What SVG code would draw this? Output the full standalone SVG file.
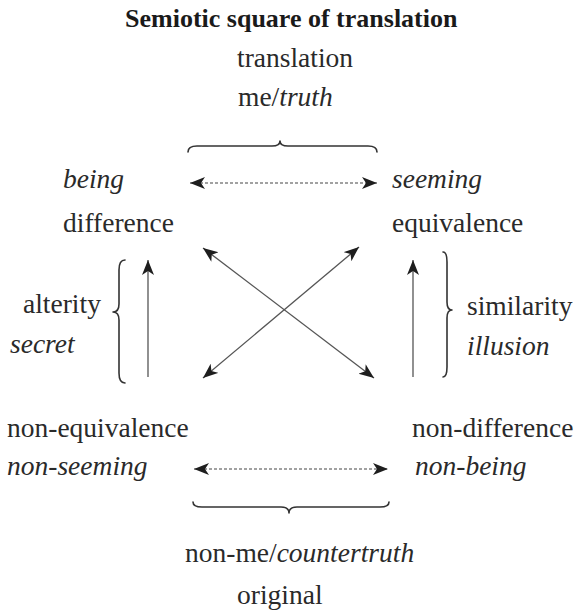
<svg xmlns="http://www.w3.org/2000/svg" width="577" height="613" viewBox="0 0 577 613">
<style>
text{font-family:"Liberation Serif","Times New Roman",serif;font-size:27.5px;fill:#2a2a2a}
.title{font-weight:bold;font-size:26px;fill:#1a1a1a}
.it{font-style:italic}
.solid{stroke:#555;stroke-width:1.3;fill:none}
.dash{stroke:#444;stroke-width:1.1;stroke-dasharray:3 2;fill:none}
.brace{stroke:#333;stroke-width:1.6;fill:none;stroke-linecap:round;stroke-linejoin:round}
</style>
<defs>
<marker id="ah" markerUnits="userSpaceOnUse" markerWidth="16" markerHeight="13" refX="15" refY="6" orient="auto-start-reverse">
<path d="M0,0 L15,6 L0,12 L4,6 z" fill="#1e1e1e"/>
</marker>
</defs>

<g id="title"><text class="title" x="125" y="27">Semiotic square of translation</text></g>

<g id="node-top">
<text x="237" y="67">translation</text>
<text x="238" y="106">me/<tspan class="it">truth</tspan></text>
</g>

<g id="node-difference">
<text class="it" x="63" y="188">being</text>
<text x="63" y="232">difference</text>
</g>

<g id="node-equivalence">
<text class="it" x="392" y="188">seeming</text>
<text x="392" y="232">equivalence</text>
</g>

<g id="node-alterity">
<text x="23" y="313">alterity</text>
<text class="it" x="10" y="353">secret</text>
</g>

<g id="node-similarity">
<text x="467" y="315">similarity</text>
<text class="it" x="467" y="355">illusion</text>
</g>

<g id="node-non-equivalence">
<text x="7" y="437">non-equivalence</text>
<text class="it" x="7" y="475">non-seeming</text>
</g>

<g id="node-non-difference">
<text x="412" y="437">non-difference</text>
<text class="it" x="415" y="475">non-being</text>
</g>

<g id="node-bottom">
<text x="185" y="562">non-me/<tspan class="it">countertruth</tspan></text>
<text x="237" y="604">original</text>
</g>

<g id="braces">
<path class="brace" d="M188,152 Q188,146 197,146 L272,146 Q280,146 280,141 Q280,146 288,146 L368,146 Q377,146 377,152"/>
<path class="brace" d="M193,502 Q193,507 202,507 L281,507 Q289,507 289,513 Q289,507 297,507 L380,507 Q389,507 389,502"/>
<path class="brace" d="M125,260 Q119,260 119,270 L119,304 Q119,312 113,312 Q119,312 119,320 L119,373 Q119,383 125,383"/>
<path class="brace" d="M443,252 Q447,252 447,262 L447,302 Q447,310 452,310 Q447,310 447,318 L447,367 Q447,377 443,377"/>
</g>

<g id="connectors">
<line class="dash" x1="190" y1="183" x2="377" y2="183" marker-start="url(#ah)" marker-end="url(#ah)"/>
<line class="dash" x1="194" y1="469" x2="388" y2="469" marker-start="url(#ah)" marker-end="url(#ah)"/>
<line class="solid" x1="203" y1="248" x2="374" y2="378" marker-start="url(#ah)" marker-end="url(#ah)"/>
<line class="solid" x1="203" y1="378" x2="359" y2="247" marker-start="url(#ah)" marker-end="url(#ah)"/>
<line class="solid" x1="148" y1="377" x2="148" y2="260" marker-end="url(#ah)"/>
<line class="solid" x1="413" y1="377" x2="413" y2="260" marker-end="url(#ah)"/>
</g>
</svg>
